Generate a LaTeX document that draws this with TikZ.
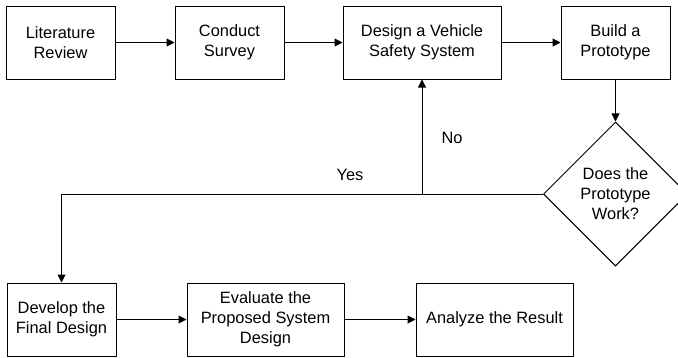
\documentclass[tikz,border=0pt]{standalone}
\usepackage{fontspec}
\setmainfont{Liberation Sans}
\usetikzlibrary{shapes.geometric,arrows.meta}
\begin{document}
\begin{tikzpicture}[x=1pt,y=-1pt,
  every node/.style={font=\fontsize{16.4}{20}\selectfont, align=center, inner sep=0pt},
  box/.style={draw, line width=1pt, minimum height=73pt},
  narrow/.style={box, minimum width=109pt},
  wide/.style={box, minimum width=157pt},
  decision/.style={draw, line width=1pt, diamond, aspect=1, minimum width=144pt, minimum height=144pt},
  arr/.style={draw, line width=1pt, -{Triangle[length=8pt,width=8pt]}},
  lbl/.style={font=\fontsize{16.4}{20}\selectfont}]
\useasboundingbox (0,0) rectangle (678,357);
\node[narrow] (lit) at (60.5,42.5) {Literature\\Review};
\node[narrow] (sur) at (229.5,42.5) {Conduct\\Survey};
\node[wide, minimum width=158pt] (des) at (422,42.5) {Design a Vehicle\\Safety System};
\node[narrow] (bui) at (615.5,42.5) {Build a\\Prototype};
\node[decision] (dia) at (615.5,194) {Does the\\Prototype\\Work?};
\node[narrow] (dev) at (61.5,319.5) {Develop the\\Final Design};
\node[wide] (eva) at (265.5,319.5) {Evaluate the\\Proposed System\\Design};
\node[wide] (ana) at (494.5,319.5) {Analyze the Result};
\coordinate (j) at (dia.west -| des.south);
\draw[arr] (lit) -- (sur);
\draw[arr] (sur) -- (des);
\draw[arr] (des) -- (bui);
\draw[arr] (bui) -- (dia);
\draw[arr] (dia.west) -| (dev.north);
\draw[arr] (j) -- (des.south);
\draw[arr] (dev) -- (eva);
\draw[arr] (eva) -- (ana);
\node[lbl] (yes) at (350,175) {Yes};
\node[lbl] (no) at (452,138) {No};
\end{tikzpicture}
\end{document}
